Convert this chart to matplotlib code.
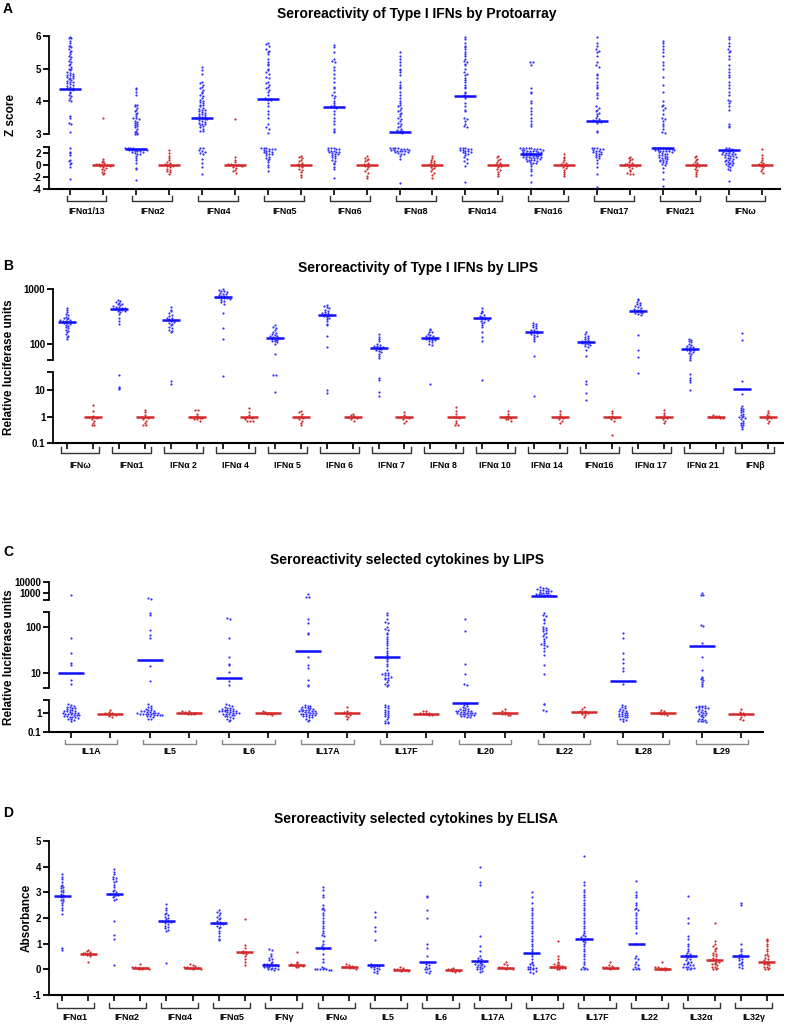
import numpy as np
import matplotlib
matplotlib.use('Agg')
import matplotlib.pyplot as plt
from matplotlib.ticker import NullLocator
from matplotlib.transforms import blended_transform_factory

W, H = 788, 1025
BLUE = '#2f2fff'
RED = '#d02828'
plt.rcParams['font.family'] = ['Liberation Sans', 'DejaVu Sans']

# ---------------- Panel A : Protoarray Z scores ----------------
a_labels = ['IFNα1/13', 'IFNα2', 'IFNα4', 'IFNα5', 'IFNα6', 'IFNα8',
            'IFNα14', 'IFNα16', 'IFNα17', 'IFNα21', 'IFNω']
a_blue = [
    [5.98, 5.95, 5.93, 5.85, 5.8, 5.7, 5.68, 5.65, 5.6, 5.55, 5.5, 5.45, 5.4, 5.35, 5.3, 5.25, 5.2,
     5.15, 5.1, 5.05, 5.0, 4.98, 4.95, 4.9, 4.88, 4.85, 4.82, 4.8, 4.78, 4.75, 4.72, 4.7, 4.68,
     4.65, 4.62, 4.6, 4.58, 4.55, 4.52, 4.5, 4.48, 4.45, 4.42, 4.4, 4.38, 4.36, 4.3, 4.25, 4.2,
     4.15, 4.1, 4.05, 4.0, 3.55, 3.5, 3.35, 3.3, 3.05,
     2.85, 2.2, 2.0, 1.6, 0.9, 0.6, 0.4, 0.1, -0.3, -2.3],
    [4.42, 4.38, 4.3, 4.2, 3.9, 3.88, 3.85, 3.8, 3.75, 3.7, 3.65, 3.6, 3.55, 3.5, 3.48, 3.45, 3.4,
     3.38, 3.35, 3.3, 3.28, 3.25, 3.2, 3.15, 3.1, 3.05, 3.02, 3.0, 3.0,
     2.9, 2.85, 2.8, 2.75, 2.7, 2.65, 2.6, 2.6, 2.55, 2.5, 2.45, 2.4, 2.35, 2.3, 2.2, 2.1, 2.0,
     1.9, 1.8, 1.5, 1.2, 0.8, 0.3, -0.5, -0.6, -2.5],
    [5.05, 4.95, 4.85, 4.6, 4.55, 4.5, 4.45, 4.4, 4.35, 4.3, 4.25, 4.2, 4.15, 4.1, 4.05, 4.0, 3.98,
     3.95, 3.9, 3.88, 3.85, 3.8, 3.78, 3.75, 3.72, 3.7, 3.68, 3.65, 3.62, 3.6, 3.58, 3.55, 3.53,
     3.52, 3.5, 3.5, 3.48, 3.46, 3.45, 3.42, 3.4, 3.38, 3.35, 3.32, 3.3, 3.28, 3.25, 3.2, 3.15,
     3.1, 3.08, 2.85, 2.8, 2.5, 2.3, 2.2, 2.0, 1.8, 1.0, 0.3, -0.4, -1.5],
    [5.78, 5.75, 5.7, 5.6, 5.55, 5.5, 5.45, 5.3, 5.2, 5.15, 5.1, 5.0, 4.95, 4.9, 4.85, 4.75, 4.7,
     4.6, 4.55, 4.5, 4.45, 4.4, 4.35, 4.3, 4.2, 4.1, 4.08, 4.07, 4.06, 4.05, 4.05, 3.95, 3.85,
     3.7, 3.6, 3.5, 3.3, 3.2, 3.15, 3.02,
     2.85, 2.8, 2.75, 2.7, 2.65, 2.6, 2.5, 2.4, 2.3, 2.2, 2.1, 2.0, 1.9, 1.8, 1.6, 1.4, 1.2, 1.0,
     0.8, 0.5, 0.0, -0.3, -1.0],
    [5.72, 5.65, 5.5, 5.3, 5.25, 5.2, 5.05, 4.95, 4.85, 4.7, 4.6, 4.45, 4.4, 4.3, 4.2, 4.15, 4.1,
     4.0, 3.95, 3.9, 3.85, 3.83, 3.8, 3.7, 3.6, 3.5, 3.4, 3.3, 3.15, 3.08, 3.05,
     2.85, 2.8, 2.75, 2.7, 2.6, 2.5, 2.4, 2.3, 2.2, 2.15, 2.1, 2.0, 1.9, 1.8, 1.7, 1.5, 1.3, 1.1,
     0.9, 0.7, 0.4, 0.1, -0.3, -0.7, -2.2],
    [5.5, 5.4, 5.3, 5.2, 5.1, 5.0, 4.95, 4.9, 4.8, 4.6, 4.5, 4.45, 4.4, 4.3, 4.2, 4.1, 4.0, 3.95,
     3.9, 3.85, 3.8, 3.75, 3.7, 3.65, 3.6, 3.55, 3.5, 3.45, 3.4, 3.35, 3.3, 3.25, 3.2, 3.15, 3.12,
     3.1, 3.08, 3.05, 3.05, 3.03,
     2.85, 2.8, 2.78, 2.75, 2.7, 2.65, 2.6, 2.55, 2.5, 2.45, 2.4, 2.35, 2.3, 2.25, 2.2, 2.1, 2.0,
     1.9, 1.8, 1.5, 1.0, -3.0],
    [5.98, 5.9, 5.8, 5.7, 5.65, 5.6, 5.5, 5.45, 5.4, 5.3, 5.25, 5.2, 5.15, 5.1, 5.0, 4.9, 4.85,
     4.8, 4.7, 4.65, 4.6, 4.5, 4.45, 4.4, 4.3, 4.25, 4.2, 4.17, 4.1, 3.95, 3.85, 3.75, 3.7, 3.5,
     3.45, 3.4, 3.3, 3.25, 3.22,
     2.85, 2.8, 2.75, 2.7, 2.6, 2.5, 2.45, 2.4, 2.3, 2.2, 2.1, 2.0, 1.8, 1.6, 1.3, 1.0, 0.6, 0.3,
     -0.2, -2.9],
    [5.2, 5.2, 5.1, 4.4, 4.3, 4.25, 4.0, 3.95, 3.8, 3.7, 3.6, 3.5, 3.4, 3.3, 3.25,
     2.9, 2.85, 2.8, 2.8, 2.75, 2.7, 2.65, 2.6, 2.55, 2.5, 2.45, 2.4, 2.35, 2.3, 2.25, 2.2, 2.15,
     2.1, 2.05, 2.0, 1.95, 1.9, 1.85, 1.8, 1.75, 1.7, 1.65, 1.6, 1.55, 1.5, 1.45, 1.4, 1.35, 1.3,
     1.25, 1.2, 1.15, 1.1, 1.0, 0.95, 0.9, 0.85, 0.8, 0.7, 0.6, 0.5, 0.4, 0.3, 0.1, -0.2, -0.6,
     -1.0, -1.7, -2.8],
    [5.97, 5.8, 5.7, 5.6, 5.55, 5.5, 5.4, 5.2, 5.1, 5.05, 4.85, 4.8, 4.7, 4.6, 4.5, 4.45, 4.4,
     4.25, 4.2, 4.1, 3.85, 3.8, 3.75, 3.7, 3.65, 3.6, 3.55, 3.5, 3.45, 3.42, 3.4, 3.4, 3.38, 3.35,
     3.1, 3.05,
     2.85, 2.8, 2.75, 2.7, 2.6, 2.5, 2.4, 2.3, 2.2, 2.1, 2.0, 1.9, 1.8, 1.7, 1.5, 1.3, 1.1, 0.8,
     0.4, -0.3, -1.5, -3.6],
    [5.85, 5.8, 5.7, 5.6, 5.5, 5.4, 5.2, 5.1, 5.0, 4.75, 4.5, 4.3, 4.0, 3.9, 3.85, 3.8, 3.75,
     3.6, 3.5, 3.45, 3.4, 3.3, 3.25, 3.15, 3.05, 3.02,
     2.9, 2.88, 2.85, 2.8, 2.75, 2.7, 2.65, 2.6, 2.55, 2.5, 2.45, 2.4, 2.35, 2.3, 2.25, 2.2,
     2.1, 2.0, 1.9, 1.8, 1.7, 1.6, 1.5, 1.4, 1.3, 1.2, 1.1, 1.0, 0.9, 0.8, 0.7, 0.6, 0.45, 0.3,
     0.15, 0.0, -0.5, -1.2, -2.4, -3.5],
    [5.98, 5.9, 5.8, 5.7, 5.6, 5.55, 5.5, 5.4, 5.3, 5.1, 5.0, 4.9, 4.8, 4.75, 4.6, 4.5, 4.4, 4.3,
     4.2, 4.05, 4.0, 3.95, 3.85, 3.75, 3.3, 3.25, 3.2,
     2.9, 2.8, 2.6, 2.5, 2.4, 2.3, 2.2, 2.1, 2.05, 2.0, 1.9, 1.8, 1.75, 1.7, 1.6, 1.5, 1.45, 1.4,
     1.3, 1.2, 1.1, 1.0, 0.9, 0.8, 0.7, 0.6, 0.5, 0.4, 0.3, 0.2, 0.1, 0.0, -0.2, -0.4, -0.6,
     -0.9, -2.6],
]
a_red = [
    [3.5, 1.0, 0.7, 0.5, 0.4, 0.2, 0.1, 0.0, 0.0, 0.0, -0.1, -0.2, -0.3, -0.5, -0.7, -0.9, -1.1, -1.3, -1.5],
    [2.5, 2.0, 1.5, 1.1, 0.8, 0.5, 0.3, 0.1, 0.0, 0.0, -0.1, -0.2, -0.4, -0.6, -0.8, -1.0, -1.2, -1.5],
    [3.45, 1.3, 0.9, 0.5, 0.2, 0.1, 0.0, 0.0, 0.0, -0.1, -0.3, -0.5, -0.8, -1.0, -1.3],
    [1.5, 1.3, 1.1, 0.9, 0.6, 0.4, 0.2, 0.0, 0.0, -0.2, -0.4, -0.7, -0.9, -1.2, -1.6, -2.0],
    [1.5, 1.2, 1.0, 0.8, 0.6, 0.3, 0.1, 0.0, 0.0, -0.2, -0.4, -0.7, -1.0, -1.3, -1.8, -2.2],
    [1.5, 1.2, 0.9, 0.7, 0.5, 0.3, 0.1, 0.0, -0.1, -0.3, -0.5, -0.7, -1.0, -1.3, -1.7, -2.1],
    [1.5, 1.3, 1.0, 0.8, 0.5, 0.3, 0.1, 0.0, -0.1, -0.3, -0.6, -0.9, -1.2, -1.5, -1.9],
    [1.8, 1.4, 1.1, 0.8, 0.5, 0.3, 0.1, 0.0, -0.1, -0.3, -0.5, -0.8, -1.1, -1.5, -1.8],
    [1.4, 1.2, 1.0, 0.8, 0.5, 0.3, 0.2, 0.1, 0.0, 0.0, -0.1, -0.3, -0.5, -0.8, -1.0, -1.4, -1.5, -1.5],
    [1.5, 1.3, 1.0, 0.8, 0.5, 0.3, 0.1, 0.0, -0.1, -0.3, -0.6, -0.9, -1.2, -1.5, -1.8],
    [2.6, 1.6, 1.1, 0.8, 0.5, 0.3, 0.1, 0.0, 0.0, -0.2, -0.4, -0.7, -1.0, -1.3],
]
a_blue_med = [4.38, 2.62, 3.5, 4.07, 3.83, 3.05, 4.17, 1.8, 3.4, 2.9, 2.45]
a_red_med = [0, 0, 0, 0, 0, 0, 0, 0, 0, 0, 0]

# ---------------- Panel B : LIPS type I IFNs ----------------
b_labels = ['IFNω', 'IFNα1', 'IFNα 2', 'IFNα 4', 'IFNα 5', 'IFNα 6', 'IFNα 7',
            'IFNα 8', 'IFNα 10', 'IFNα 14', 'IFNα16', 'IFNα 17', 'IFNα 21', 'IFNβ']
b_blue = [
    [450, 420, 380, 350, 330, 310, 300, 290, 280, 270, 265, 260, 255, 250, 250, 245, 240, 235,
     230, 220, 210, 200, 190, 180, 170, 160, 150, 140, 130, 120],
    [620, 600, 580, 560, 540, 520, 500, 480, 470, 460, 450, 440, 430, 430, 420, 410, 400, 390,
     380, 350, 300, 260, 230, 38, 14, 12, 11],
    [460, 420, 390, 360, 340, 320, 300, 290, 280, 275, 270, 265, 260, 250, 240, 230, 220, 200,
     190, 180, 170, 160, 22, 17],
    [980, 950, 920, 900, 870, 850, 820, 800, 780, 760, 740, 720, 700, 700, 690, 680, 670, 650,
     630, 600, 570, 540, 370, 190, 120, 35],
    [220, 200, 190, 180, 165, 155, 150, 145, 140, 135, 130, 128, 125, 120, 118, 115, 112, 110,
     105, 100, 65, 40, 40, 9],
    [500, 480, 460, 440, 420, 400, 380, 370, 360, 350, 340, 330, 320, 310, 300, 280, 260, 230,
     220, 140, 85, 10, 8],
    [150, 130, 120, 110, 100, 95, 92, 90, 88, 85, 82, 80, 78, 75, 72, 70, 65, 60, 55, 30, 25, 9, 6],
    [185, 175, 165, 160, 150, 145, 140, 135, 130, 128, 125, 122, 120, 118, 115, 110, 105, 100, 95, 17],
    [440, 400, 380, 360, 340, 320, 310, 300, 295, 290, 285, 280, 270, 260, 250, 240, 220, 200,
     160, 130, 110, 25],
    [240, 230, 220, 210, 200, 190, 180, 175, 170, 165, 160, 155, 150, 145, 140, 130, 120, 110, 60, 6],
    [160, 150, 140, 130, 125, 120, 115, 112, 110, 108, 105, 102, 100, 98, 95, 90, 85, 75, 60,
     22, 17, 7.7, 4.5],
    [650, 620, 580, 550, 520, 500, 480, 460, 440, 430, 420, 410, 400, 395, 390, 380, 370, 360,
     350, 330, 146, 75, 56, 45],
    [120, 115, 110, 105, 100, 95, 90, 88, 85, 82, 80, 78, 77, 75, 72, 70, 68, 65, 60, 55, 50,
     42, 30, 25, 20, 10],
    [158, 118, 22, 7, 2.5, 2.2, 2.0, 1.8, 1.6, 1.5, 1.3, 1.2, 1.1, 1.0, 1.0, 0.9, 0.8, 0.7, 0.6,
     0.6, 0.5, 0.5, 0.4, 0.35],
]
b_red = [
    [2.8, 1.6, 1.1, 1.0, 1.0, 1.0, 0.9, 0.8, 0.7, 0.6, 0.5, 0.5],
    [1.8, 1.5, 1.2, 1.0, 1.0, 0.9, 0.8, 0.7, 0.6, 0.5, 0.5],
    [1.8, 1.8, 1.3, 1.1, 1.0, 1.0, 1.0, 0.9, 0.9, 0.8, 0.8, 0.7],
    [2.2, 1.5, 1.2, 1.0, 1.0, 0.9, 0.8, 0.7, 0.7, 0.7],
    [1.6, 1.5, 1.3, 1.1, 1.0, 1.0, 0.9, 0.8, 0.7, 0.6, 0.5],
    [1.3, 1.2, 1.1, 1.0, 1.0, 1.0, 0.9, 0.8, 0.7],
    [1.5, 1.2, 1.0, 1.0, 1.0, 0.9, 0.8, 0.7, 0.6],
    [2.3, 1.6, 1.3, 1.0, 1.0, 0.9, 0.7, 0.6, 0.5, 0.5],
    [1.6, 1.3, 1.1, 1.0, 1.0, 0.9, 0.8, 0.8, 0.7],
    [1.6, 1.3, 1.1, 1.0, 1.0, 0.9, 0.8, 0.7, 0.6],
    [1.6, 1.4, 1.1, 1.0, 1.0, 0.9, 0.8, 0.7, 0.2],
    [1.8, 1.4, 1.2, 1.0, 1.0, 0.9, 0.8, 0.7, 0.6],
    [1.2, 1.1, 1.05, 1.0, 1.0, 1.0, 0.95, 0.9, 0.9],
    [1.6, 1.4, 1.2, 1.1, 1.0, 1.0, 0.9, 0.8, 0.7, 0.6],
]
b_blue_med = [250, 430, 270, 700, 128, 340, 82, 125, 290, 165, 108, 400, 78, 11]
b_red_med = [1, 1, 1, 1, 1, 1, 1, 1, 1, 1, 1, 1, 1, 1]

# ---------------- Panel C : LIPS selected cytokines ----------------
c_labels = ['IL1A', 'IL5', 'IL6', 'IL17A', 'IL17F', 'IL20', 'IL22', 'IL28', 'IL29']
c_blue = [
    [600, 58, 27, 17, 15, 7, 5.8,
     2.8, 2.5, 2.2, 2.0, 2.0, 1.8, 1.8, 1.6, 1.5, 1.4, 1.3, 1.2, 1.2, 1.1, 1.0, 1.0, 1.0, 0.95,
     0.9, 0.9, 0.85, 0.8, 0.8, 0.75, 0.7, 0.7, 0.65, 0.6, 0.6, 0.55, 0.5, 0.5, 0.45, 0.4],
    [320, 300, 200, 180, 86, 66, 58, 14.5, 6.8,
     2.8, 2.3, 2.0, 1.8, 1.6, 1.5, 1.4, 1.3, 1.2, 1.2, 1.1, 1.1, 1.0, 1.0, 1.0, 0.95, 0.9, 0.9,
     0.9, 0.85, 0.85, 0.8, 0.8, 0.8, 0.75, 0.7, 0.7, 0.6, 0.5, 0.5],
    [157, 150, 58, 22, 16, 15, 10.5, 6.8, 5.5,
     2.8, 2.5, 2.3, 2.0, 1.9, 1.8, 1.7, 1.6, 1.5, 1.4, 1.4, 1.3, 1.3, 1.2, 1.2, 1.2, 1.1, 1.1,
     1.0, 1.0, 1.0, 0.9, 0.9, 0.85, 0.8, 0.8, 0.7, 0.7, 0.6, 0.55, 0.5, 0.45, 0.4],
    [800, 450, 400, 150, 120, 75, 72, 22, 15, 13, 7, 5.5, 5.2,
     2.5, 2.3, 2.2, 2.0, 2.0, 1.9, 1.8, 1.7, 1.6, 1.5, 1.5, 1.4, 1.3, 1.3, 1.2, 1.2, 1.1, 1.1,
     1.0, 1.0, 1.0, 0.9, 0.9, 0.85, 0.8, 0.8, 0.75, 0.7, 0.7, 0.6, 0.6, 0.5, 0.45, 0.4],
    [200, 180, 150, 130, 120, 100, 90, 85, 75, 70, 60, 55, 50, 45, 40, 35, 30, 28, 25, 22, 20,
     18, 16, 14, 12, 10, 10, 9.5, 9, 9, 8.5, 8, 8, 7.5, 7, 6.5, 6, 5.5, 5.2,
     2.5, 2.2, 2.0, 1.8, 1.5, 1.3, 1.1, 1.0, 0.9, 0.8, 0.7, 0.6, 0.5, 0.4, 0.35, 0.3, 0.3],
    [150, 80, 16, 9.5, 6, 5.7,
     3.5, 3.0, 2.5, 2.2, 2.0, 1.8, 1.7, 1.6, 1.5, 1.4, 1.3, 1.3, 1.2, 1.2, 1.1, 1.1, 1.0, 1.0,
     1.0, 1.0, 0.95, 0.9, 0.9, 0.85, 0.8, 0.8, 0.75, 0.7, 0.7, 0.65, 0.6],
    [3500, 3000, 2800, 2500, 2200, 2000, 1800, 1600, 1500, 1400, 1200, 1100, 1000, 900, 850,
     800, 750, 700, 650, 600, 550, 500,
     200, 180, 170, 150, 140, 120, 100, 95, 90, 85, 80, 75, 70, 65, 60, 55, 50, 45, 42, 40, 38,
     35, 30, 25, 15, 9.5, 3.0, 2.8, 1.4, 1.3],
    [75, 58, 28, 20, 17, 13, 11, 5.8,
     2.5, 2.2, 2.0, 1.8, 1.6, 1.5, 1.3, 1.2, 1.1, 1.0, 1.0, 0.9, 0.9, 0.8, 0.8, 0.7, 0.7, 0.6,
     0.6, 0.5, 0.5, 0.45, 0.4],
    [1000, 650, 600, 110, 105, 45, 22, 12, 8.5, 8, 7.5, 7, 6.5, 6, 5.2,
     2.4, 2.3, 2.2, 2.1, 2.0, 2.0, 1.9, 1.8, 1.6, 1.5, 1.3, 1.2, 1.1, 1.0, 1.0, 0.9, 0.8, 0.8,
     0.7, 0.6, 0.5, 0.5, 0.45, 0.4, 0.4, 0.38, 0.35],
]
c_red = [
    [1.5, 1.1, 1.0, 0.95, 0.9, 0.9, 0.85, 0.8, 0.7, 0.65],
    [1.3, 1.2, 1.1, 1.05, 1.0, 1.0, 1.0, 0.95, 0.9, 0.9, 0.85],
    [1.25, 1.1, 1.05, 1.0, 1.0, 0.95, 0.9, 0.85, 0.8],
    [2.0, 1.3, 1.1, 1.0, 1.0, 0.95, 0.9, 0.8, 0.7, 0.6, 0.5],
    [1.3, 1.2, 1.0, 1.0, 0.95, 0.9, 0.9, 0.8, 0.75],
    [1.6, 1.2, 1.1, 1.0, 0.95, 0.9, 0.85, 0.8, 0.8],
    [2.0, 1.6, 1.3, 1.2, 1.1, 1.0, 1.0, 0.9, 0.8, 0.6],
    [1.5, 1.3, 1.1, 1.0, 1.0, 0.95, 0.9, 0.85, 0.8],
    [1.6, 1.1, 1.0, 0.9, 0.85, 0.8, 0.6, 0.5, 0.45],
]
c_blue_med = [10, 19, 7.8, 30, 22, 3.5, 530, 6.8, 38]
c_red_med = [0.9, 1.0, 1.0, 1.0, 0.9, 0.95, 1.1, 1.0, 0.85]

# ---------------- Panel D : ELISA ----------------
d_labels = ['IFNα1', 'IFNα2', 'IFNα4', 'IFNα5', 'IFNγ', 'IFNω', 'IL5', 'IL6',
            'IL17A', 'IL17C', 'IL17F', 'IL22', 'IL32α', 'IL32γ']
d_blue = [
    [3.7, 3.6, 3.5, 3.4, 3.3, 3.25, 3.2, 3.15, 3.1, 3.05, 3.0, 2.95, 2.9, 2.85, 2.85, 2.8, 2.75,
     2.7, 2.65, 2.6, 2.5, 2.4, 2.3, 2.15, 0.85, 0.75],
    [3.9, 3.8, 3.7, 3.6, 3.55, 3.5, 3.45, 3.4, 3.3, 3.2, 3.1, 3.05, 3.0, 2.95, 2.92, 2.9, 2.9,
     2.85, 2.8, 2.75, 2.7, 1.9, 1.35, 1.2, 0.15],
    [2.55, 2.4, 2.3, 2.2, 2.15, 2.1, 2.05, 2.0, 1.95, 1.9, 1.9, 1.88, 1.85, 1.8, 1.75, 1.7,
     1.65, 1.6, 1.55, 1.5, 0.25],
    [2.3, 2.25, 2.2, 2.1, 2.05, 2.0, 1.95, 1.9, 1.85, 1.8, 1.8, 1.78, 1.75, 1.7, 1.65, 1.6, 1.5,
     1.4, 1.3, 1.2, 1.15],
    [0.8, 0.75, 0.6, 0.5, 0.45, 0.4, 0.35, 0.3, 0.25, 0.2, 0.2, 0.18, 0.15, 0.15, 0.12, 0.1,
     0.1, 0.08, 0.05, 0.05, 0.03, 0.02, 0.0, -0.02],
    [3.2, 3.1, 2.9, 2.8, 2.5, 2.4, 2.35, 2.3, 2.2, 2.1, 2.0, 1.9, 1.8, 1.7, 1.6, 1.5, 1.4, 1.35,
     1.3, 1.1, 1.0, 0.9, 0.85, 0.8, 0.6, 0.4, 0.3, 0.1, 0.05, 0.02, 0.01, 0.0, 0.0, 0.0, -0.01, -0.02],
    [2.25, 2.05, 1.65, 1.5, 1.15, 0.2, 0.18, 0.15, 0.12, 0.1, 0.08, 0.05, 0.03, 0.0, -0.05,
     -0.1, -0.15],
    [2.85, 2.8, 2.3, 2.0, 1.0, 0.85, 0.5, 0.3, 0.2, 0.15, 0.1, 0.05, 0.02, 0.0, -0.05, -0.1, -0.15],
    [4.0, 3.4, 3.3, 1.3, 0.9, 0.7, 0.5, 0.45, 0.4, 0.35, 0.3, 0.28, 0.25, 0.22, 0.2, 0.18, 0.15,
     0.12, 0.1, 0.08, 0.05, 0.02, 0.0, -0.05, -0.1],
    [3.0, 2.8, 2.6, 2.4, 2.3, 2.2, 2.1, 2.0, 1.9, 1.8, 1.7, 1.6, 1.5, 1.4, 1.3, 1.2, 1.1, 1.0,
     0.9, 0.8, 0.7, 0.6, 0.5, 0.4, 0.3, 0.25, 0.2, 0.15, 0.1, 0.1, 0.05, 0.05, 0.02, 0.0, 0.0,
     -0.05, -0.1, -0.15],
    [4.4, 3.4, 3.3, 3.1, 3.0, 2.9, 2.8, 2.7, 2.6, 2.5, 2.4, 2.3, 2.2, 2.1, 2.0, 1.9, 1.8, 1.7,
     1.6, 1.5, 1.4, 1.35, 1.3, 1.25, 1.2, 1.2, 1.15, 1.1, 1.05, 1.0, 0.9, 0.8, 0.7, 0.6, 0.5,
     0.4, 0.3, 0.2, 0.1, 0.05, 0.02, 0.0, 0.0],
    [3.45, 3.0, 2.9, 2.8, 2.6, 2.5, 2.4, 2.35, 2.3, 2.2, 2.1, 2.0, 1.9, 1.8, 1.7, 1.6, 1.4, 1.0,
     0.5, 0.45, 0.4, 0.3, 0.2, 0.15, 0.1, 0.05, 0.02, 0.0, 0.0],
    [2.85, 2.0, 1.8, 1.3, 1.2, 1.0, 0.9, 0.8, 0.7, 0.65, 0.6, 0.55, 0.5, 0.5, 0.45, 0.4, 0.35,
     0.3, 0.3, 0.25, 0.2, 0.2, 0.15, 0.15, 0.1, 0.1, 0.08, 0.05, 0.05, 0.02, 0.0],
    [2.6, 2.5, 1.0, 0.8, 0.7, 0.6, 0.55, 0.5, 0.45, 0.4, 0.35, 0.3, 0.25, 0.2, 0.15, 0.1, 0.05],
]
d_red = [
    [0.75, 0.7, 0.68, 0.65, 0.62, 0.6, 0.6, 0.58, 0.55, 0.5, 0.3],
    [0.2, 0.1, 0.08, 0.06, 0.05, 0.05, 0.04, 0.03, 0.02, 0.0],
    [0.2, 0.15, 0.12, 0.1, 0.08, 0.07, 0.06, 0.05, 0.04, 0.03, 0.02],
    [1.95, 0.95, 0.85, 0.7, 0.67, 0.65, 0.6, 0.5, 0.4, 0.3, 0.15],
    [0.68, 0.3, 0.25, 0.2, 0.18, 0.17, 0.15, 0.12, 0.1, 0.08],
    [0.2, 0.15, 0.12, 0.1, 0.1, 0.08, 0.06, 0.05, 0.03],
    [0.08, 0.05, 0.02, 0.0, -0.01, -0.02, -0.03, -0.05, -0.08],
    [0.05, 0.02, 0.0, -0.02, -0.03, -0.05, -0.07, -0.1],
    [0.3, 0.2, 0.15, 0.1, 0.08, 0.06, 0.05, 0.04, 0.03, 0.02],
    [1.1, 0.5, 0.4, 0.3, 0.25, 0.2, 0.18, 0.15, 0.12, 0.1, 0.1, 0.08, 0.06, 0.05, 0.04, 0.02, 0.0],
    [0.3, 0.15, 0.12, 0.1, 0.08, 0.07, 0.06, 0.05, 0.04, 0.02],
    [0.3, 0.1, 0.08, 0.06, 0.05, 0.04, 0.03, 0.02, 0.0, -0.01],
    [1.8, 1.1, 1.0, 0.9, 0.85, 0.8, 0.7, 0.65, 0.6, 0.55, 0.5, 0.45, 0.4, 0.38, 0.35, 0.3, 0.3,
     0.25, 0.2, 0.2, 0.15, 0.1, 0.1, 0.05, 0.02, 0.0],
    [1.2, 1.15, 1.1, 1.0, 0.9, 0.8, 0.7, 0.6, 0.55, 0.5, 0.45, 0.4, 0.35, 0.3, 0.3, 0.25, 0.25,
     0.2, 0.2, 0.15, 0.1, 0.1, 0.05, 0.02, 0.0],
]
d_blue_med = [2.85, 2.92, 1.88, 1.8, 0.15, 0.83, 0.15, 0.27, 0.33, 0.62, 1.2, 1.0, 0.5, 0.5]
d_red_med = [0.6, 0.05, 0.07, 0.67, 0.17, 0.1, -0.02, -0.03, 0.07, 0.1, 0.07, 0.03, 0.38, 0.27]

fig = plt.figure(figsize=(W / 100, H / 100), dpi=100)


def add_ax(left, right, top, bottom):
    return fig.add_axes([left / W, 1 - bottom / H, (right - left) / W, (bottom - top) / H])


def pick_seg(v, segs):
    best, bd = 0, 1e9
    for j, sg in enumerate(segs):
        lo, hi, scale = sg[0], sg[1], sg[4]
        if scale == 'log':
            a, b, c = np.log10(v), np.log10(lo), np.log10(hi)
        else:
            a, b, c = v, lo, hi
        d = 0 if b <= a <= c else min(abs(a - b), abs(a - c))
        if d < bd:
            best, bd = j, d
    return best


def panel(segs, axL, axR, p0, s, labels, blue, red, blue_med, red_med, line_px,
          ylabel, ylab_xy, title, title_xy, letter, letter_y, lab_y, tick_y, brk, brk_col,
          lab_font):
    axes = []
    xlim = ((axL - p0) / s, (axR - p0) / s)
    for (lo, hi, top, bot, scale, ticks, tl) in segs:
        ax = add_ax(axL, axR, top, bot)
        ax.set_yscale(scale)
        ax.set_ylim(lo, hi)
        ax.set_xlim(*xlim)
        ax.patch.set_alpha(0)
        for sp in ['top', 'right', 'bottom']:
            ax.spines[sp].set_visible(False)
        ax.spines['left'].set_linewidth(1.3)
        ax.yaxis.set_minor_locator(NullLocator())
        ax.set_yticks(ticks)
        ax.set_yticklabels(tl, fontweight='bold')
        ax.set_xticks([])
        ax.tick_params(axis='y', length=4, width=1.3, labelsize=7, pad=1.5)
        axes.append(ax)
    bax = axes[-1]
    bax.spines['bottom'].set_visible(True)
    bax.spines['bottom'].set_linewidth(1.5)
    n = len(labels)
    bax.set_xticks(range(2 * n))
    bax.set_xticklabels([])
    bax.tick_params(axis='x', length=tick_y, width=1.2)

    for k in range(2 * n):
        vals = blue[k // 2] if k % 2 == 0 else red[k // 2]
        col = BLUE if k % 2 == 0 else RED
        rows = {}
        for v in vals:
            j = pick_seg(v, segs)
            lo, hi = segs[j][0], segs[j][1]
            vv = min(max(v, lo), hi)
            py = axes[j].transData.transform((0, vv))[1]
            rows.setdefault(int(round(py / 2.3)), []).append((j, vv))
        xs = [[] for _ in segs]
        ys = [[] for _ in segs]
        for key, pts in rows.items():
            m = len(pts)
            for i, (j, vv) in enumerate(pts):
                off = (i - (m - 1) / 2) * 2.8
                xs[j].append(k + off / s)
                ys[j].append(vv)
        for j, ax in enumerate(axes):
            if xs[j]:
                ax.scatter(xs[j], ys[j], s=2.5, color=col, linewidths=0, zorder=3, clip_on=False)
        mv = blue_med[k // 2] if k % 2 == 0 else red_med[k // 2]
        j = pick_seg(mv, segs)
        half = line_px / 2 / s
        lcol = '#1010ff' if k % 2 == 0 else '#d22a2a'
        axes[j].hlines(mv, k - half, k + half, color=lcol, lw=1.8, zorder=4, clip_on=False)

    # brackets and group labels
    tr = blended_transform_factory(bax.transData, fig.transFigure)
    y1, y2 = 1 - brk[0] / H, 1 - brk[1] / H
    ext = brk[2] / s
    for i, lab in enumerate(labels):
        xa, xb = 2 * i - ext, 2 * i + 1 + ext
        fig.lines.append(plt.Line2D([xa, xa, xb, xb], [y1, y2, y2, y1], transform=tr,
                                    color=brk_col, lw=1.0))
        fig.text(2 * i + 0.5, 1 - lab_y / H, lab, transform=tr,
                 ha='center', va='center', fontsize=lab_font, fontweight='bold')

    fig.text(ylab_xy[0] / W, 1 - ylab_xy[1] / H, ylabel, rotation=90, ha='center', va='center',
             fontsize=8.5, fontweight='bold')
    fig.text(title_xy[0] / W, 1 - title_xy[1] / H, title, ha='center', va='center',
             fontsize=10, fontweight='bold')
    fig.text(3 / W, 1 - letter_y / H, letter, ha='left', va='center', fontsize=10,
             fontweight='bold')


# Panel A
segs_a = [(3, 6, 36, 134, 'linear', [3, 4, 5, 6], ['3', '4', '5', '6']),
          (-4, 3, 147, 189, 'linear', [-4, -2, 0, 2, 3], ['-4', '-2', '0', '2', ''])]
panel(segs_a, 49, 780, 70, 32.95, a_labels, a_blue, a_red, a_blue_med, a_red_med, 22,
      'Z score', (11, 115), 'Seroreactivity of Type I IFNs by Protoarray', (417, 14),
      'A', 9, 211, 4, (196, 201, 3.5), '#333333', 6.3)

# Panel B
segs_b = [(50, 1000, 289, 360, 'log', [50, 100, 1000], ['', '100', '1000']),
          (0.1, 50, 372, 443, 'log', [0.1, 1, 10, 50], ['0.1', '1', '10', ''])]
panel(segs_b, 53, 783, 67, 25.96, b_labels, b_blue, b_red, b_blue_med, b_red_med, 18,
      'Relative luciferase units', (9, 367), 'Seroreactivity of Type I IFNs by LIPS', (418, 268),
      'B', 266, 465, 4, (447, 453, 6.5), '#333333', 6.3)

# Panel C
segs_c = [(230, 10000, 582, 600, 'log', [230, 1000, 10000], ['', '1000', '10000']),
          (4.8, 210, 612, 688, 'log', [4.8, 10, 100, 210], ['', '10', '100', '']),
          (0.1, 4.8, 700, 732, 'log', [0.1, 1, 4.8], ['0.1', '1', ''])]
panel(segs_c, 49, 763, 71, 39.44, c_labels, c_blue, c_red, c_blue_med, c_red_med, 26,
      'Relative luciferase units', (9, 657), 'Seroreactivity selected cytokines by LIPS', (407, 560),
      'C', 552, 752, 4, (740, 744, 6.5), '#888888', 6.5)

# Panel D
segs_d = [(-1, 5, 841, 995, 'linear', [-1, 0, 1, 2, 3, 4, 5], ['-1', '0', '1', '2', '3', '4', '5'])]
panel(segs_d, 49, 783, 62, 26.1, d_labels, d_blue, d_red, d_blue_med, d_red_med, 17,
      'Absorbance', (27, 918), 'Seroreactivity selected cytokines by ELISA', (416, 819),
      'D', 813, 1017, 4, (1003, 1008, 5.5), '#333333', 6.5)

fig.savefig('out.png', dpi=100)
